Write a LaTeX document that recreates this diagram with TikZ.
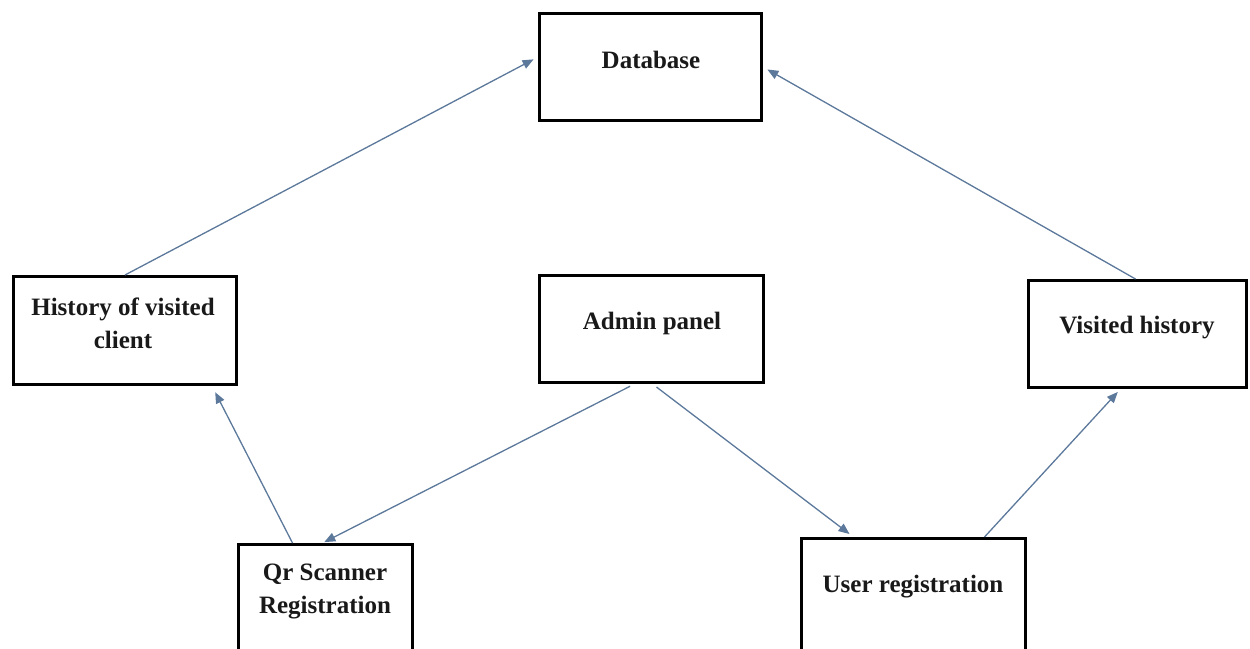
\documentclass[tikz,border=0pt]{standalone}
\usepackage{fontspec}
\setmainfont{Liberation Serif}
\usetikzlibrary{arrows.meta}
\definecolor{arrowcol}{RGB}{92,120,155}
\begin{document}
\begin{tikzpicture}[x=1pt,y=-1pt,
  box/.style={draw=black, line width=3pt, fill=white, inner sep=0pt},
  lbl/.style={font=\fontsize{25}{33}\selectfont\bfseries, align=center, text=black!90},
  arr/.style={draw=arrowcol, line width=1.3pt, -{Triangle[length=11pt,width=9pt]}}]
\useasboundingbox (0,0) rectangle (1250,648);
% boxes
\node[box, minimum width=222pt, minimum height=107pt] (db)   at (650.5,67) {};
\node[box, minimum width=223pt, minimum height=108pt] (hist) at (125,330.5) {};
\node[box, minimum width=224pt, minimum height=107pt] (adm)  at (651.5,329) {};
\node[box, minimum width=218pt, minimum height=107pt] (vis)  at (1137.5,334) {};
\node[box, minimum width=174pt, minimum height=106pt] (qr)   at (325.5,597.5) {};
\node[box, minimum width=224pt, minimum height=112pt] (user) at (913.5,594.5) {};
% labels
\node[lbl] (dbt)   at (651,60)  {Database};
\node[lbl] (histt) at (123,323) {History of visited\\client};
\node[lbl] (admt)  at (652,323) {Admin panel};
\node[lbl] (vist)  at (1137,328) {Visited history};
\node[lbl] (qrt)   at (325,591) {Qr Scanner\\Registration};
\node[lbl] (usert) at (913,587) {User registration};
% connectors
\draw[arr, shorten >=5pt] (hist.north) -- ([yshift=10pt]db.west);
\draw[arr, shorten >=5pt] ([xshift=-2pt]vis.north) -- (db.east);
\draw[arr, shorten <=5pt, shorten >=2pt] ([xshift=-17pt]adm.south) -- ([xshift=-3pt]qr.north);
\draw[arr, shorten <=5pt, shorten >=5pt] ([xshift=1pt]adm.south) -- ([xshift=-60pt]user.north);
\draw[arr, shorten >=7pt] ([xshift=-33pt]qr.north) -- ([xshift=87pt]hist.south);
\draw[arr, shorten >=4pt] ([xshift=71pt]user.north) -- ([xshift=-17pt]vis.south);
\end{tikzpicture}
\end{document}
